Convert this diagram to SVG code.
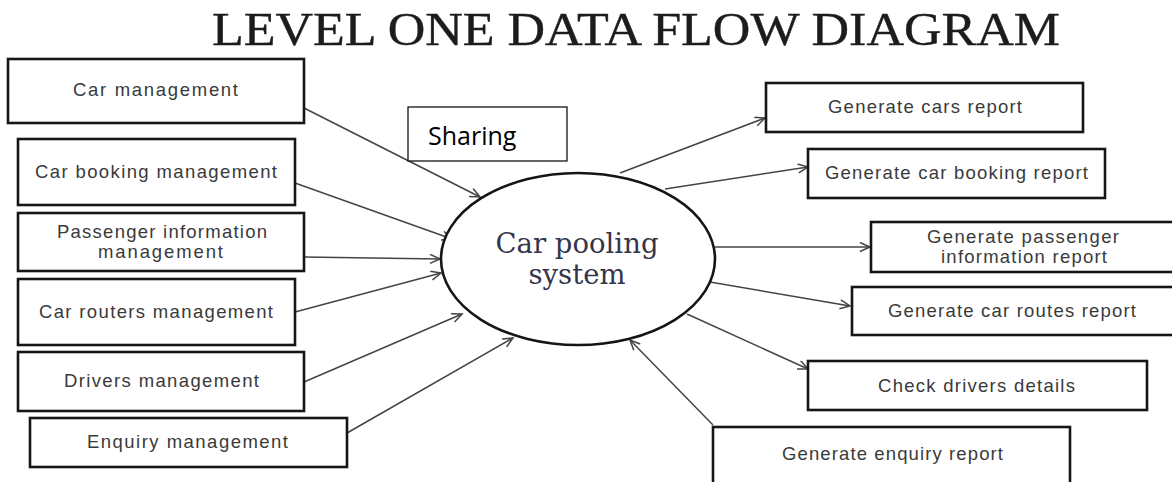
<svg xmlns="http://www.w3.org/2000/svg" width="1172" height="482" viewBox="0 0 1172 482">
<style>
.box{fill:#fff;stroke:#151515;stroke-width:2.6}
.lbl{font-family:"Liberation Sans",Arial,sans-serif;font-size:18.5px;fill:#3a3a3a;text-anchor:middle}
.conn{stroke:#444;stroke-width:1.5;fill:none;marker-end:url(#arr)}
.ctr{font-family:"DejaVu Serif","Liberation Serif",serif;font-size:27px;fill:#35354a;text-anchor:middle}
</style>
<defs>
<marker id="arr" markerUnits="userSpaceOnUse" markerWidth="14" markerHeight="12" refX="11" refY="5" orient="auto">
<path d="M1,0.5 L11,5 L1,9.5" fill="none" stroke="#444" stroke-width="1.5"/>
</marker>
</defs>
<rect width="1172" height="482" fill="#fff"/>
<text id="title" x="212" y="45" textLength="848" lengthAdjust="spacingAndGlyphs" font-family="Liberation Serif,serif" font-size="46" fill="#1c1c1c" stroke="#1c1c1c" stroke-width="0.4">LEVEL ONE DATA FLOW DIAGRAM</text>

<g id="connectors">
<line class="conn" x1="304" y1="108" x2="480" y2="197"/>
<line class="conn" x1="295" y1="183" x2="452" y2="239"/>
<line class="conn" x1="304" y1="257" x2="440" y2="259"/>
<line class="conn" x1="295" y1="312" x2="441" y2="273"/>
<line class="conn" x1="304" y1="382" x2="462" y2="314"/>
<line class="conn" x1="347" y1="433" x2="513" y2="338"/>
<line class="conn" x1="620" y1="173" x2="765" y2="118"/>
<line class="conn" x1="665" y1="189" x2="808" y2="167"/>
<line class="conn" x1="715" y1="247" x2="870" y2="247"/>
<line class="conn" x1="710" y1="282" x2="850" y2="306"/>
<line class="conn" x1="687" y1="314" x2="808" y2="369"/>
<line class="conn" x1="713" y1="425" x2="630" y2="340"/>
</g>

<g id="sharing">
<rect x="408" y="107" width="159" height="54" fill="#fff" stroke="#000" stroke-width="1.2"/>
<text x="428" y="145" font-family="Open Sans,sans-serif" font-size="25" fill="#000">Sharing</text>
</g>

<g id="car-pooling-system">
<ellipse cx="578" cy="259" rx="137" ry="86" fill="#fff" stroke="#151515" stroke-width="2.6"/>
<text class="ctr" x="577" y="253" textLength="163" lengthAdjust="spacingAndGlyphs">Car pooling</text>
<text class="ctr" x="577" y="284" textLength="97" lengthAdjust="spacingAndGlyphs">system</text>
</g>

<g id="car-management">
<rect class="box" x="8" y="59" width="296" height="64"/>
<text class="lbl" x="155.5" y="96" textLength="165" lengthAdjust="spacing">Car management</text>
</g>
<g id="car-booking-management">
<rect class="box" x="18" y="139" width="277" height="66"/>
<text class="lbl" x="156" y="178" textLength="242" lengthAdjust="spacing">Car booking management</text>
</g>
<g id="passenger-information-management">
<rect class="box" x="18" y="213" width="286" height="58"/>
<text class="lbl" x="162" y="238" textLength="210" lengthAdjust="spacing">Passenger information</text>
<text class="lbl" x="160.5" y="258" textLength="125" lengthAdjust="spacing">management</text>
</g>
<g id="car-routers-management">
<rect class="box" x="18" y="279" width="277" height="66"/>
<text class="lbl" x="156" y="318" textLength="234" lengthAdjust="spacing">Car routers management</text>
</g>
<g id="drivers-management">
<rect class="box" x="18" y="352" width="286" height="59"/>
<text class="lbl" x="161.5" y="387" textLength="195" lengthAdjust="spacing">Drivers management</text>
</g>
<g id="enquiry-management">
<rect class="box" x="30" y="418" width="317" height="49"/>
<text class="lbl" x="187.5" y="448" textLength="201" lengthAdjust="spacing">Enquiry management</text>
</g>

<g id="generate-cars-report">
<rect class="box" x="766" y="83" width="317" height="49"/>
<text class="lbl" x="925" y="113" textLength="194" lengthAdjust="spacing">Generate cars report</text>
</g>
<g id="generate-car-booking-report">
<rect class="box" x="808" y="149" width="297" height="49"/>
<text class="lbl" x="956.5" y="179" textLength="263" lengthAdjust="spacing">Generate car booking report</text>
</g>
<g id="generate-passenger-information-report">
<rect class="box" x="871" y="222" width="310" height="50"/>
<text class="lbl" x="1023" y="243" textLength="192" lengthAdjust="spacing">Generate passenger</text>
<text class="lbl" x="1024" y="263" textLength="166" lengthAdjust="spacing">information report</text>
</g>
<g id="generate-car-routes-report">
<rect class="box" x="852" y="287" width="329" height="48"/>
<text class="lbl" x="1012" y="317" textLength="248" lengthAdjust="spacing">Generate car routes report</text>
</g>
<g id="check-drivers-details">
<rect class="box" x="808" y="361" width="339" height="49"/>
<text class="lbl" x="976.5" y="392" textLength="197" lengthAdjust="spacing">Check drivers details</text>
</g>
<g id="generate-enquiry-report">
<rect class="box" x="713" y="427" width="357" height="65"/>
<text class="lbl" x="892.5" y="460" textLength="221" lengthAdjust="spacing">Generate enquiry report</text>
</g>
</svg>
